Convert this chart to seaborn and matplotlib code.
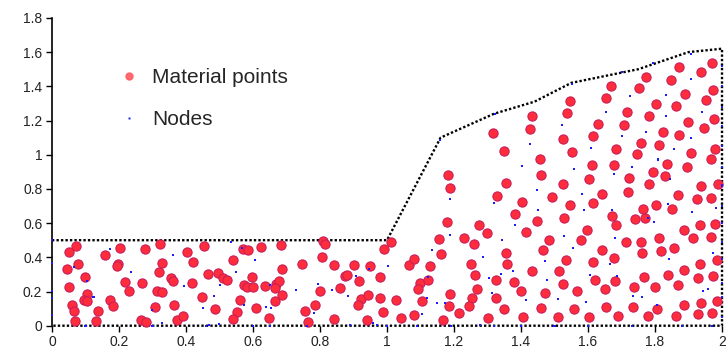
import matplotlib
matplotlib.use("Agg")
import matplotlib.pyplot as plt
from matplotlib.lines import Line2D
import seaborn as sns
import pandas as pd

# ---------------- data ----------------
mp_x = [0.072, 0.051, 0.079, 0.045, 0.099, 0.050, 0.104, 0.096, 0.104, 0.061, 0.066, 0.136, 0.069, 0.132,
        0.159, 0.202, 0.196, 0.195, 0.217, 0.231, 0.172, 0.183, 0.278, 0.269, 0.266, 0.281, 0.323, 0.329,
        0.320, 0.313, 0.329, 0.307, 0.355, 0.361, 0.365, 0.373, 0.390, 0.402, 0.422, 0.417, 0.455, 0.466,
        0.448, 0.486, 0.495, 0.511, 0.521, 0.561, 0.552, 0.541, 0.539, 0.571, 0.586, 0.574, 0.581, 0.596,
        0.600, 0.625, 0.684, 0.610, 0.648, 0.636, 0.668, 0.678, 0.666, 0.686, 0.687, 0.666, 0.746, 0.756,
        0.765, 0.785, 0.800, 0.805, 0.808, 0.814, 0.841, 0.841, 0.860, 0.876, 0.880, 0.901, 0.916, 0.921,
        0.914, 0.940, 0.944, 0.950, 0.978, 0.980, 0.987, 0.991, 1.011, 1.027, 1.042, 1.066, 1.081, 1.081,
        1.098, 1.093, 1.104, 1.121, 1.128, 1.155, 1.161, 1.168, 1.188, 1.186, 1.216, 1.231, 1.261, 1.252,
        1.262, 1.268, 1.255, 1.246, 1.302, 1.298, 1.414, 1.484, 1.579, 1.596, 1.714, 1.759, 1.812, 1.887,
        1.913, 1.966, 1.356, 1.467, 1.534, 1.641, 1.678, 1.760, 1.818, 1.856, 1.986, 1.357, 1.432, 1.513,
        1.615, 1.935, 1.324, 1.380, 1.526, 1.622, 1.681, 1.768, 1.840, 1.886, 1.928, 1.972, 1.401, 1.471,
        1.568, 1.651, 1.736, 1.801, 1.868, 1.326, 1.350, 1.460, 1.558, 1.654, 1.734, 1.806, 1.887, 1.937,
        1.984, 1.405, 1.510, 1.603, 1.689, 1.778, 1.862, 1.927, 1.971, 1.434, 1.538, 1.428, 1.317, 1.524,
        1.349, 1.553, 1.456, 1.181, 1.461, 1.354, 1.525, 1.187, 1.327, 1.492, 1.404, 1.546, 1.382, 1.527,
        1.179, 1.276, 1.449, 1.546, 1.971, 1.873, 1.938, 1.773, 1.848, 1.668, 1.751, 1.974, 1.653, 1.889,
        1.951, 1.802, 1.864, 1.717, 1.782, 1.975, 1.899, 1.629, 1.708, 1.946, 1.825, 1.872, 1.615, 1.759,
        1.812, 1.979, 1.684, 1.746, 1.907, 1.967, 1.612, 1.679, 1.837, 1.895, 1.793, 1.602, 1.723, 1.829,
        1.782, 1.938, 1.989, 1.642, 1.720, 1.868, 1.925, 1.966, 1.616, 1.763, 1.802, 1.852, 1.673, 1.741,
        1.770, 1.683, 1.933, 1.980]
mp_y = [0.466, 0.431, 0.363, 0.332, 0.287, 0.228, 0.184, 0.149, 0.144, 0.123, 0.086, 0.086, 0.027, 0.027,
        0.413, 0.453, 0.363, 0.347, 0.257, 0.205, 0.149, 0.113, 0.447, 0.248, 0.033, 0.023, 0.476, 0.365,
        0.312, 0.203, 0.197, 0.109, 0.277, 0.263, 0.123, 0.033, 0.055, 0.433, 0.373, 0.251, 0.466, 0.301,
        0.166, 0.096, 0.306, 0.281, 0.269, 0.150, 0.082, 0.037, 0.386, 0.447, 0.443, 0.238, 0.229, 0.283,
        0.226, 0.462, 0.472, 0.105, 0.045, 0.234, 0.244, 0.261, 0.222, 0.333, 0.178, 0.144, 0.361, 0.088,
        0.023, 0.121, 0.201, 0.404, 0.494, 0.480, 0.353, 0.037, 0.219, 0.292, 0.295, 0.353, 0.261, 0.154,
        0.121, 0.032, 0.180, 0.349, 0.283, 0.162, 0.082, 0.449, 0.488, 0.149, 0.045, 0.353, 0.390, 0.063,
        0.248, 0.216, 0.144, 0.267, 0.349, 0.509, 0.419, 0.033, 0.185, 0.113, 0.076, 0.515, 0.480, 0.359,
        0.296, 0.213, 0.160, 0.115, 0.047, 0.540, 0.546, 0.499, 0.499, 0.560, 0.489, 0.488, 0.511, 0.560,
        0.511, 0.520, 0.425, 0.441, 0.386, 0.441, 0.394, 0.425, 0.435, 0.453, 0.386, 0.363, 0.320, 0.322,
        0.371, 0.359, 0.265, 0.257, 0.244, 0.265, 0.263, 0.287, 0.295, 0.326, 0.277, 0.291, 0.205, 0.193,
        0.205, 0.213, 0.225, 0.225, 0.240, 0.162, 0.096, 0.104, 0.098, 0.109, 0.111, 0.099, 0.121, 0.135,
        0.144, 0.053, 0.051, 0.053, 0.057, 0.055, 0.058, 0.070, 0.074, 1.226, 1.244, 1.149, 1.125, 1.092,
        1.023, 1.014, 0.975, 0.881, 0.881, 0.835, 0.830, 0.804, 0.760, 0.751, 0.723, 0.706, 0.653, 0.632,
        0.605, 0.587, 0.614, 1.316, 1.538, 1.511, 1.485, 1.453, 1.435, 1.404, 1.392, 1.378, 1.330, 1.353,
        1.320, 1.296, 1.283, 1.251, 1.226, 1.209, 1.189, 1.181, 1.174, 1.154, 1.135, 1.115, 1.109, 1.070,
        1.057, 1.035, 1.032, 1.002, 1.008, 0.973, 0.940, 0.938, 0.944, 0.928, 0.897, 0.858, 0.865, 0.874,
        0.827, 0.819, 0.829, 0.772, 0.782, 0.763, 0.739, 0.747, 0.719, 0.684, 0.704, 0.682, 0.642, 0.622,
        0.630, 0.587, 0.587, 0.595]

node_x = [0.173, 0.065, 0.104, 0.124, 0.236, 0.298, 0.361, 0.394, 0.329, 0.450, 0.483, 0.469, 0.499,
          0.501, 0.548, 0.574, 0.534, 0.566, 0.606, 0.640, 0.654, 0.652, 0.727, 0.794, 0.782, 0.837,
          0.883, 0.907, 0.890, 0.945, 0.959, 0.970, 1.003, 1.135, 1.187, 1.105, 1.119, 1.148, 1.172,
          1.278, 1.121, 1.342, 1.529, 1.681, 1.286, 1.305, 1.340, 1.375, 1.471, 1.556, 1.477, 1.313,
          1.416, 1.511, 1.594, 1.605, 1.665, 1.686, 1.842, 1.735, 1.761, 1.805, 1.944, 1.959, 1.972,
          1.521, 1.428, 1.403, 1.559, 1.449, 1.319, 1.189, 1.451, 1.382, 1.907, 1.725, 1.833, 1.654,
          1.940, 1.832, 1.773, 1.701, 1.907, 1.609, 1.857, 1.808, 1.731, 1.679, 1.845, 1.581, 1.588,
          1.672, 1.840, 1.910, 1.983, 1.779, 1.797,
          # boundary nodes
          1.158, 1.322, 1.552, 1.701, 1.793, 1.907,
          0.10, 0.30, 0.46, 0.60, 0.65, 0.76, 1.00, 1.09, 1.19, 1.32, 1.40, 1.50, 1.60, 1.73, 1.88, 1.97,
          0.0, 0.0, 0.0, 0.0, 0.0,
          2.0, 2.0, 2.0, 2.0, 2.0, 2.0, 2.0, 2.0, 2.0, 2.0, 2.0, 2.0, 2.0, 2.0]
node_y = [0.449, 0.342, 0.263, 0.170, 0.316, 0.092, 0.413, 0.232, 0.018, 0.104, 0.174, 0.004, 0.010,
          0.238, 0.316, 0.119, 0.491, 0.453, 0.382, 0.109, 0.104, 0.236, 0.207, 0.242, 0.076, 0.207,
          0.174, 0.289, 0.002, 0.330, 0.018, 0.004, 0.347, 0.443, 0.530, 0.068, 0.162, 0.131, 0.135,
          0.002, 0.285, 0.501, 0.526, 0.513, 0.404, 0.279, 0.302, 0.320, 0.380, 0.456, 0.269, 0.193,
          0.150, 0.154, 0.140, 0.298, 0.359, 0.289, 0.392, 0.175, 0.170, 0.121, 0.203, 0.215, 0.427,
          1.175, 1.061, 0.932, 0.915, 0.792, 0.718, 0.739, 0.678, 0.589, 1.443, 1.345, 1.349, 1.251,
          1.250, 1.226, 1.135, 1.109, 1.099, 1.042, 1.035, 0.972, 0.930, 0.885, 0.858, 0.768, 0.677,
          0.677, 0.710, 0.663, 0.688, 0.632, 0.605,
          1.086, 1.238, 1.413, 1.482, 1.535, 1.589,
          0.0, 0.0, 0.0, 0.0, 0.0, 0.0, 0.0, 0.0, 0.0, 0.0, 0.0, 0.0, 0.0, 0.0, 0.0, 0.0,
          0.50, 0.365, 0.203, 0.160, 0.063,
          0.05, 0.17, 0.25, 0.39, 0.49, 0.60, 0.70, 0.82, 0.93, 1.05, 1.17, 1.28, 1.40, 1.52]

boundary_x = [0.0, 1.0, 1.16, 1.32, 1.44, 1.55, 1.75, 1.90, 2.0, 2.0, 0.0]
boundary_y = [0.5, 0.5, 1.10, 1.24, 1.31, 1.42, 1.50, 1.60, 1.62, 0.0, 0.0]

x_ticks = [0, 0.2, 0.4, 0.6, 0.8, 1, 1.2, 1.4, 1.6, 1.8, 2]
x_ticklabels = ["0", "0.2", "0.4", "0.6", "0.8", "1", "1.2", "1.4", "1.6", "1.8", "2"]
y_ticks = [0, 0.2, 0.4, 0.6, 0.8, 1, 1.2, 1.4, 1.6, 1.8]
y_ticklabels = ["0", "0.2", "0.4", "0.6", "0.8", "1", "1.2", "1.4", "1.6", "1.8"]

mp = pd.DataFrame({"x": mp_x, "y": mp_y})
nodes = pd.DataFrame({"x": node_x, "y": node_y})

# ---------------- plot ----------------
sns.set_style("ticks")
plt.rcParams["font.family"] = ["Liberation Sans", "DejaVu Sans"]

fig = plt.figure(figsize=(7.26, 3.52), dpi=100)
ax = fig.add_axes([0.0716, 0.0747, 0.9229, 0.8744])

ax.plot(boundary_x, boundary_y, color="black", lw=1.7, linestyle=(0, (1, 0.9)),
        clip_on=False, zorder=1)

sns.scatterplot(data=mp, x="x", y="y", ax=ax, s=44, color="#ff2d3c", alpha=1.0,
                edgecolor="#c81e5a", linewidth=0.8, zorder=3, legend=False, clip_on=False)
sns.scatterplot(data=nodes, x="x", y="y", ax=ax, s=2.2, marker="s", color="#1a1aff",
                edgecolor="none", linewidth=0, zorder=4, legend=False, clip_on=False)

ax.set_xlim(0, 2)
ax.set_ylim(0, 1.8)
ax.set_xticks(x_ticks)
ax.set_xticklabels(x_ticklabels)
ax.set_yticks(y_ticks)
ax.set_yticklabels(y_ticklabels)
ax.set_xlabel("")
ax.set_ylabel("")
ax.tick_params(axis="both", direction="out", length=4, width=1, colors="black",
               labelsize=10, labelcolor="#222222", pad=3)

for side in ["top", "right", "bottom"]:
    ax.spines[side].set_visible(False)
ax.spines["left"].set_linewidth(1.2)
ax.spines["left"].set_color("black")

handles = [
    Line2D([], [], marker="o", linestyle="none", markersize=5, markerfacecolor="#ff5a5f",
           markeredgecolor="#ff5a5f", alpha=0.9),
    Line2D([], [], marker="s", linestyle="none", markersize=1.4, markerfacecolor="#1a1aff",
           markeredgecolor="none"),
]
ax.legend(handles, ["Material points", "Nodes"], loc="upper left",
          bbox_to_anchor=(0.152, 0.830), bbox_transform=fig.transFigure,
          frameon=False, fontsize=15, handletextpad=0.6, labelspacing=1.1,
          handlelength=1.0, borderaxespad=0)

fig.savefig("out.png", dpi=100)
